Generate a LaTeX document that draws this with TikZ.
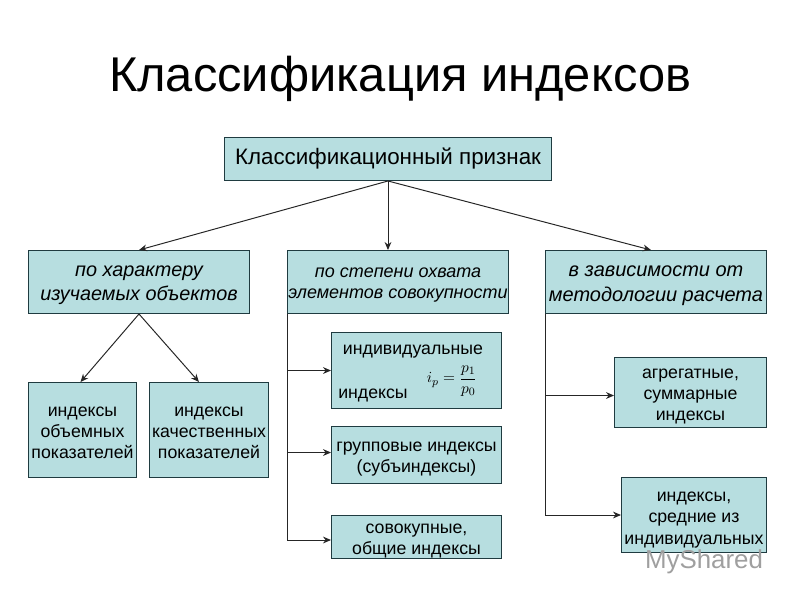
\documentclass[tikz,border=0pt]{standalone}
\usepackage{amsmath}
\usepackage{fontspec}
\setmainfont{Liberation Sans}
\usepackage{xcolor}
\usetikzlibrary{arrows.meta,calc}
\definecolor{boxfill}{HTML}{B7DEE0}
\definecolor{boxline}{HTML}{1F3B40}
\newcommand{\lowstrut}[1][1em]{\rule{0pt}{#1}}

\begin{document}
\begin{tikzpicture}[
  x=0.025cm, y=-0.025cm,
  box/.style={draw=boxline, fill=boxfill, line width=0.7pt, inner sep=0pt, align=center,
    anchor=north west, font=\fontsize{12.6}{15}\selectfont},
  arr/.style={-{Stealth[length=2mm,width=1.7mm]}, line width=0.7pt, black!85},
  label/.style={font=\fontsize{12.6}{15}\selectfont, inner sep=0pt},
]
\useasboundingbox (0,0) rectangle (800,600);

\node[font=\fontsize{34.7}{36}\selectfont, inner sep=0pt] (title) at (400,79) {Классификация индексов};

\node[box, minimum width=327*0.025cm, minimum height=43*0.025cm, font=\fontsize{15.9}{18}\selectfont] (top) at (224,137) {Классификационный признак};

\node[box, minimum width=221*0.025cm, minimum height=63*0.025cm, font=\itshape\fontsize{14.1}{17.2}\selectfont] (charact) at (28,250) {\lowstrut[0.9em]по характеру\\изучаемых объектов};
\node[box, minimum width=221*0.025cm, minimum height=63*0.025cm, font=\itshape\fontsize{12.8}{15}\selectfont] (scope) at (287,250) {\lowstrut[0.9em]по степени охвата\\элементов совокупности};
\node[box, minimum width=221*0.025cm, minimum height=63*0.025cm, font=\itshape\fontsize{14.2}{17.2}\selectfont] (method) at (545,250) {\lowstrut[0.9em]в зависимости от\\методологии расчета};

\node[box, minimum width=108*0.025cm, minimum height=95*0.025cm] (volume) at (28,382) {\lowstrut[0.85em]индексы\\объемных\\показателей};
\node[box, minimum width=119*0.025cm, minimum height=95*0.025cm] (quality) at (149,382) {\lowstrut[0.85em]индексы\\качественных\\показателей};

\node[box, minimum width=170*0.025cm, minimum height=76*0.025cm] (single) at (331,332) {};
\node[label] (singlea) at (413,352) {индивидуальные};
\node[label] (singleb) at (373,395) {индексы};
\node[label, font=\fontsize{11}{13}\selectfont] (formula) at (452,381) {$i_p=\dfrac{p_1}{p_0}$};
\node[box, minimum width=170*0.025cm, minimum height=57*0.025cm] (group) at (331,426) {\lowstrut групповые индексы\\(субъиндексы)};
\node[box, minimum width=170*0.025cm, minimum height=43*0.025cm] (total) at (331,515) {\lowstrut совокупные,\\общие индексы};

\node[box, minimum width=152*0.025cm, minimum height=70*0.025cm] (aggr) at (614,357) {\lowstrut агрегатные,\\суммарные\\индексы};
\node[box, minimum width=145*0.025cm, minimum height=75*0.025cm] (mean) at (621,477) {\lowstrut[1.1em]индексы,\\средние из\\индивидуальных};

\draw[arr] (top.south) -- (charact.north);
\draw[arr] (top.south) -- (scope.north -| top.south);
\draw[arr] (top.south) -- ([xshift=-5*0.025cm]method.north);

\draw[arr] (charact.south) -- ([xshift=-2*0.025cm]volume.north);
\draw[arr] (charact.south) -- ([xshift=-10*0.025cm]quality.north);

\draw[arr] (scope.south west) |- (single.west);
\draw[arr] (scope.south west) |- ([yshift=2.5*0.025cm]group.west);
\draw[arr] (scope.south west) |- ([yshift=-3*0.025cm]total.west);

\draw[arr] (method.south west) |- ([yshift=-3*0.025cm]aggr.west);
\draw[arr] (method.south west) |- (mean.west);

% watermark
\node[font=\fontsize{18.4}{20}\selectfont, text=gray!75, inner sep=0pt] (mark) at (704,562) {MyShared};

\end{tikzpicture}
\end{document}
